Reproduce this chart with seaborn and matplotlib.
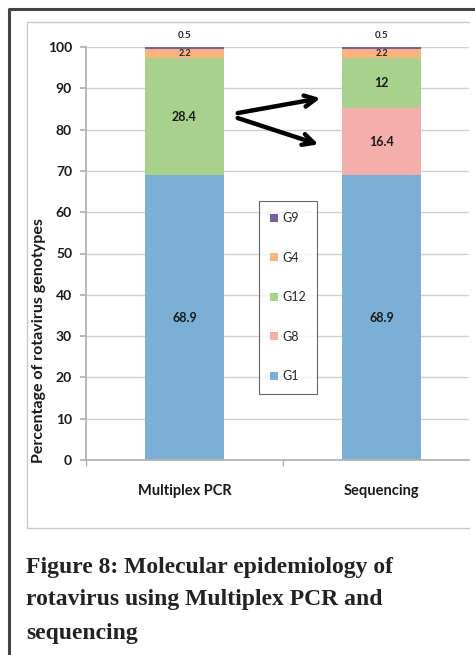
import numpy as np
import pandas as pd
import matplotlib.pyplot as plt
import seaborn as sns
from matplotlib.lines import Line2D

# ---------------------------------------------------------------------------
# DATA
# ---------------------------------------------------------------------------
methods = ['Multiplex PCR', 'Sequencing']
genotypes = ['G1', 'G8', 'G12', 'G4', 'G9']
g1 = [68.9, 68.9]
g8 = [0.0, 16.4]
g12 = [28.4, 12.0]
g4 = [2.2, 2.2]
g9 = [0.5, 0.5]
colors = {'G1': '#7bafd6', 'G8': '#f4aeac', 'G12': '#a9d18e',
          'G4': '#f9b37f', 'G9': '#7a5ca6'}

series = {'G1': g1, 'G8': g8, 'G12': g12, 'G4': g4, 'G9': g9}

sns.set_theme(style='white')
plt.rcParams['font.family'] = ['Lato', 'DejaVu Sans']

fig = plt.figure(figsize=(4.75, 6.55), dpi=100)
W, H = 475, 655

def fx(px):
    return px / W

def fy(py):
    return 1 - py / H

# outer frame (left + top only, the rest is cut off) and chart frame
fig.add_artist(Line2D([fx(9), fx(9), fx(475)], [fy(655), fy(9), fy(9)],
                      transform=fig.transFigure, color='#444444', lw=2.2))
fig.add_artist(Line2D([fx(27), fx(27), fx(469)], [fy(528), fy(22), fy(22)],
                      transform=fig.transFigure, color='#c8c8c8', lw=1.0))
fig.add_artist(Line2D([fx(27), fx(469)], [fy(528), fy(528)],
                      transform=fig.transFigure, color='#c8c8c8', lw=1.0))

ax = fig.add_axes([fx(86), fy(460), fx(469) - fx(86), fy(47) - fy(460)])

bottom = np.zeros(len(methods))
for g in genotypes:
    df = pd.DataFrame({'method': methods, 'value': series[g]})
    sns.barplot(data=df, x='method', y='value', color=colors[g], width=0.4,
                bottom=bottom.copy(), ax=ax, label=g, saturation=1,
                edgecolor='none', linewidth=0)
    bottom += np.array(series[g])

ax.set_xlim(-0.5, 1.444)
ax.set_ylim(0, 100)
ax.set_yticks(np.arange(0, 101, 10))
ax.yaxis.grid(True, color='#d0d0d0', linewidth=1.0)
ax.set_axisbelow(True)
for s in ['top', 'right']:
    ax.spines[s].set_visible(False)
ax.spines['left'].set_color('#b0b0b0')
ax.spines['bottom'].set_color('#b0b0b0')
ax.tick_params(axis='y', left=True, length=4, color='#b0b0b0', pad=6,
               labelsize=10)
ax.tick_params(axis='x', bottom=False, pad=11, labelsize=10.5)
ax.set_xticks([-0.5, 0.5], minor=True)
ax.tick_params(axis='x', which='minor', bottom=True, length=4, color='#b0b0b0')
for lab in ax.get_xticklabels() + ax.get_yticklabels():
    lab.set_fontweight('bold')
    lab.set_color('#1a1a1a')
ax.set_xlabel('')
ax.set_ylabel('Percentage of rotavirus genotypes', fontsize=11.5,
              fontweight='bold', color='#1a1a1a')
ax.yaxis.set_label_coords(-0.104, 0.29)

# value labels
base = np.zeros(len(methods))
for g in genotypes:
    vals = np.array(series[g])
    for i, v in enumerate(vals):
        if v <= 0:
            continue
        if g == 'G9':
            ax.text(i, 102.8, f'{v:g}', ha='center', va='center',
                    fontsize=7, fontweight='bold', clip_on=False)
        elif g == 'G4':
            ax.text(i, base[i] + v / 2 + 0.1, f'{v:g}', ha='center',
                    va='center', fontsize=6.5, fontweight='bold')
        else:
            ax.text(i, base[i] + v / 2, f'{v:g}', ha='center', va='center',
                    fontsize=9, fontweight='bold', color='#1a1a1a')
    base += vals

# arrows
arrow_kw = dict(arrowstyle='->', color='black', lw=3.2, mutation_scale=20,
                shrinkA=0, shrinkB=0)
ax.annotate('', xy=(0.69, 87.6), xytext=(0.27, 84.0), arrowprops=arrow_kw)
ax.annotate('', xy=(0.68, 76.4), xytext=(0.27, 82.8), arrowprops=arrow_kw)

# legend (top to bottom: G9 ... G1)
handles, labels = ax.get_legend_handles_labels()
order = [labels.index(g) for g in genotypes[::-1]]
leg = ax.legend([handles[k] for k in order], [labels[k] for k in order],
                loc='upper left', bbox_to_anchor=((259 - 86) / 383, (460 - 201) / 413),
                fontsize=9, frameon=True, fancybox=False, handlelength=0.6,
                handleheight=0.6, handletextpad=0.35, labelspacing=2.2,
                borderpad=0.9, borderaxespad=0)
leg.get_frame().set_edgecolor('#404040')
leg.get_frame().set_linewidth(0.8)

# caption
caption = ['Figure 8: Molecular epidemiology of',
           'rotavirus using Multiplex PCR and',
           'sequencing']
for k, line in enumerate(caption):
    fig.text(fx(26), fy(567 + 33 * k), line, ha='left', va='center',
             fontsize=17, fontweight='bold', color='#222222',
             family=['Liberation Serif', 'DejaVu Serif'])

fig.savefig('out.png', dpi=100)
